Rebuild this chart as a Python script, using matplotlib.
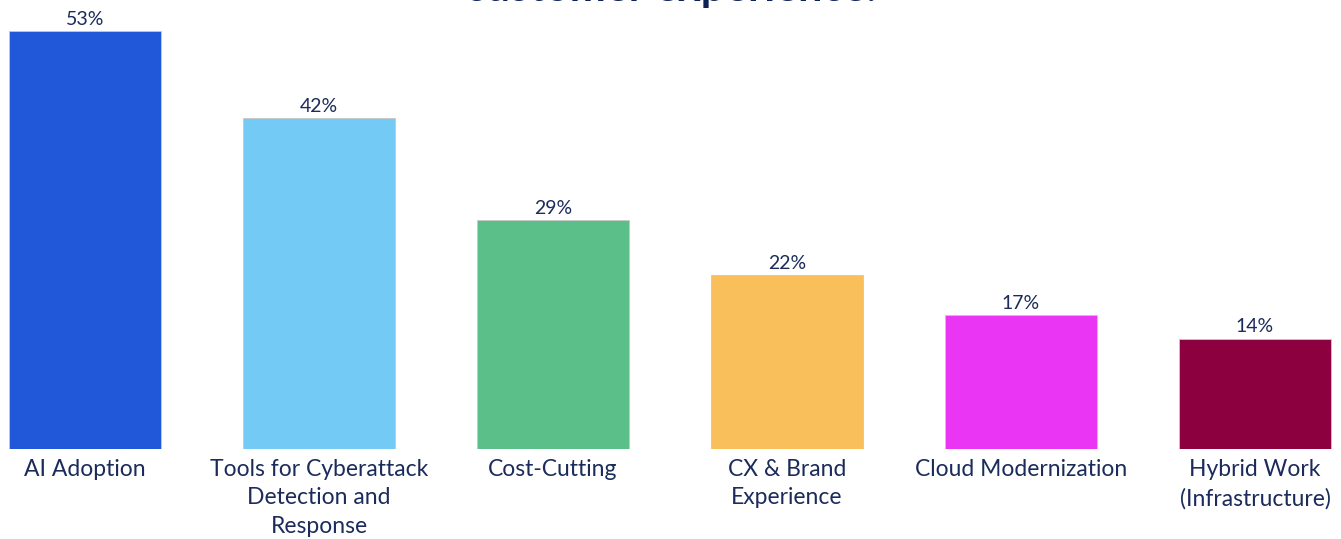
import matplotlib.pyplot as plt

categories = ["AI Adoption", "Tools for Cyberattack\nDetection and\nResponse", "Cost-Cutting",
              "CX & Brand\nExperience", "Cloud Modernization", "Hybrid Work\n(Infrastructure)"]
values = [53, 42, 29, 22, 17, 14]
colors = ["#2157D9", "#73CAF5", "#5BBF8A", "#F9BF5A", "#EB35F5", "#8C003F"]

navy = "#1B2B5B"
plt.rcParams['font.family'] = ['Lato', 'DejaVu Sans']

fig = plt.figure(figsize=(13.41, 5.39), dpi=100)
ax = fig.add_axes([0, 90 / 539, 1, 449 / 539])

x = list(range(len(values)))
bars = ax.bar(x, values, width=0.65, color=colors, edgecolor="#c8c8c8", linewidth=0.6)
for xi, v in zip(x, values):
    ax.text(xi, v + 0.4, f"{v}%", ha="center", va="bottom", fontsize=14, color=navy)

for xi, lab in zip(x, categories):
    ax.text(xi, -1.3, lab, ha="center", va="top", fontsize=16.5, color=navy, linespacing=1.42)

ax.set_xlim(-85 / 234, (1341 - 85) / 234)
ax.set_ylim(0, 449 / 7.887)
ax.axis("off")

# title is cut off at the top of the image
fig.text(0.5, 1 - 0.8 / 539, "customer experience.", ha="center", va="baseline",
         fontsize=31, fontweight="bold", color="#0D2257")

plt.savefig("out.png", dpi=100)
